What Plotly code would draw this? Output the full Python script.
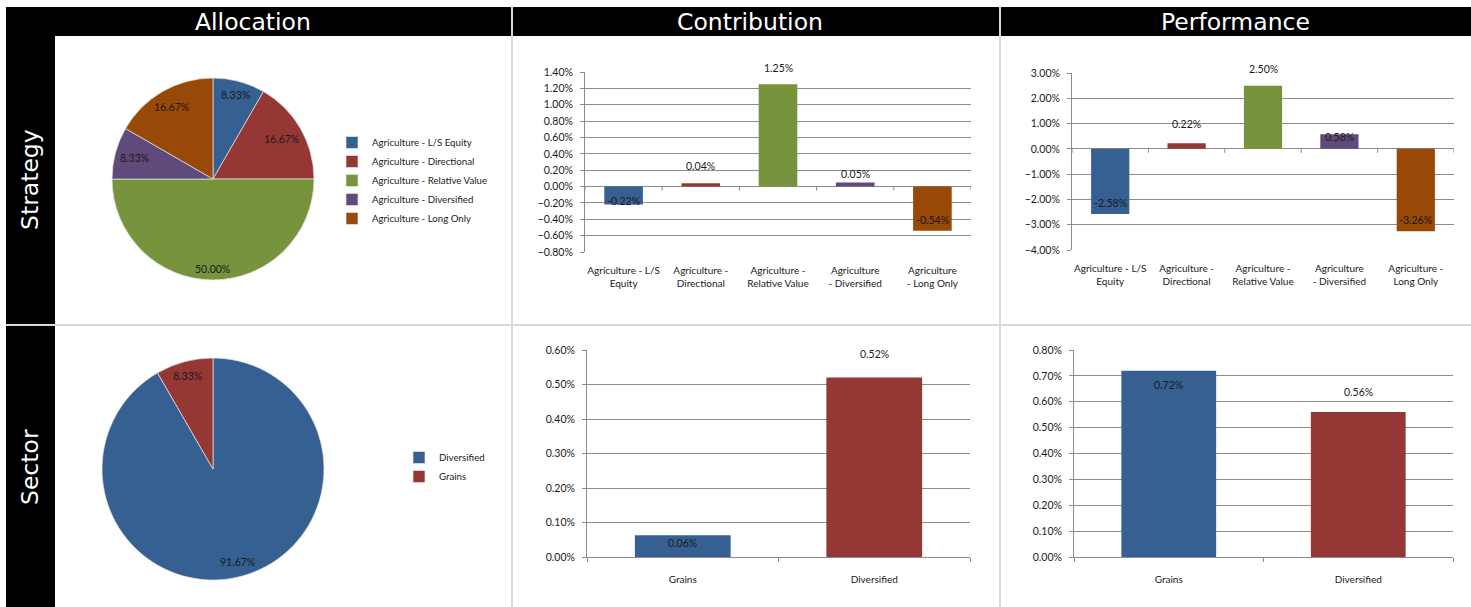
import math
import plotly.graph_objects as go

W, H = 1471, 607

# ---------------- data ----------------
strategy_names = [
    "Agriculture - L/S Equity",
    "Agriculture - Directional",
    "Agriculture - Relative Value",
    "Agriculture - Diversified",
    "Agriculture - Long Only",
]
strategy_alloc = [8.33, 16.67, 50.00, 8.33, 16.67]          # %
strategy_contrib = [-0.0022, 0.0004, 0.0125, 0.0005, -0.0054]
strategy_perf = [-0.0258, 0.0022, 0.0250, 0.0058, -0.0326]
contrib_ticktext = [
    "Agriculture - L/S<br>Equity",
    "Agriculture -<br>Directional",
    "Agriculture -<br>Relative Value",
    "Agriculture<br>- Diversified",
    "Agriculture<br>- Long Only",
]
perf_ticktext = [
    "Agriculture - L/S<br>Equity",
    "Agriculture -<br>Directional",
    "Agriculture -<br>Relative Value",
    "Agriculture<br>- Diversified",
    "Agriculture -<br>Long Only",
]

sector_pie_names = ["Diversified", "Grains"]
sector_alloc = [91.67, 8.33]                               # %
sector_bar_names = ["Grains", "Diversified"]
sector_contrib = [0.00063, 0.0052]
sector_perf = [0.0072, 0.0056]

# ---------------- styles ----------------
BLUE, RED, GREEN, PURPLE, ORANGE = "#366092", "#953735", "#77933C", "#604A7B", "#984807"
strategy_colors = [BLUE, RED, GREEN, PURPLE, ORANGE]
sector_pie_colors = [BLUE, RED]
sector_bar_colors = [BLUE, RED]
GRID = "#8C8C8C"
DIV = "#D9D9D9"
TXT = "#1a1a1a"
SMALL = "Lato"
BIG = "DejaVu Sans"

# label offsets (pixels, upward) relative to each bar end
contrib_dy = [4, 17, 16, 8, 11]
perf_dy = [11, 19, 17, -3, 11]
sec_contrib_dy = [-8, 24]
sec_perf_dy = [-14, 20]
PIE_INNER = 0.955      # label boxes are kept inside this fraction of the radius
LABEL_CHAR_W = 5.5     # approx. px per character of a pie label
LABEL_HALF_H = 6


def px(x):
    return x / W


def py(y):
    return 1 - y / H


fig = go.Figure()
annotations = []
shapes = []

# ---- pies ----
pie_specs = [
    (strategy_names, strategy_alloc, strategy_colors, (112, 314), (78, 280), "legend"),
    (sector_pie_names, sector_alloc, sector_pie_colors, (102, 324), (358, 580), "legend2"),
]
for names, vals, cols, (x0, x1), (y0, y1), leg in pie_specs:
    fig.add_trace(go.Pie(
        labels=names, values=vals, sort=False,
        direction="clockwise", rotation=0,
        marker=dict(colors=cols, line=dict(color="#E6E6E6", width=0.7)),
        textinfo="none",
        domain=dict(x=[px(x0), px(x1)], y=[py(y1), py(y0)]),
        legend=leg, hoverinfo="label+value",
    ))
    # data labels placed "inside end" of each slice (angles clockwise from 12 o'clock)
    cx, cy, r = (x0 + x1) / 2, (y0 + y1) / 2, (x1 - x0) / 2
    total = sum(vals)
    cum = 0.0
    for v in vals:
        mid = (cum + v / 2) / total * 2 * math.pi
        cum += v
        txt = f"{v:.2f}%"
        hw = len(txt) * LABEL_CHAR_W / 2
        d = PIE_INNER * r - hw * abs(math.sin(mid)) - LABEL_HALF_H * abs(math.cos(mid))
        lx = cx + d * math.sin(mid)
        ly = cy - d * math.cos(mid)
        annotations.append(dict(
            x=px(lx), y=py(ly), xref="paper", yref="paper", text=txt,
            showarrow=False, xanchor="center", yanchor="middle",
            font=dict(family=SMALL, size=10.5, color=TXT),
        ))

# ---- bars ----
bar_specs = [
    (strategy_names, strategy_contrib, strategy_colors, contrib_ticktext, "x", "y", contrib_dy),
    (strategy_names, strategy_perf, strategy_colors, perf_ticktext, "x2", "y2", perf_dy),
    (sector_bar_names, sector_contrib, sector_bar_colors, sector_bar_names, "x3", "y3", sec_contrib_dy),
    (sector_bar_names, sector_perf, sector_bar_colors, sector_bar_names, "x4", "y4", sec_perf_dy),
]

for names, vals, cols, tt, xa, ya, dys in bar_specs:
    fig.add_trace(go.Bar(
        x=names, y=vals, width=0.5, xaxis=xa, yaxis=ya,
        marker=dict(color=cols, line=dict(width=0)),
        showlegend=False, hovertemplate="%{x}: %{y:.2%}<extra></extra>",
    ))
    for n, v, dy in zip(names, vals, dys):
        annotations.append(dict(
            x=n, y=v, xref=xa, yref=ya, text=f"{v * 100:.2f}%", showarrow=False,
            yshift=dy, yanchor="middle", font=dict(family=SMALL, size=10.5, color=TXT),
        ))
    if min(vals) < 0:
        for i in range(len(names) + 1):
            shapes.append(dict(
                type="line", xref=xa, yref=ya, x0=i - 0.5, x1=i - 0.5,
                ysizemode="pixel", yanchor=0, y0=0, y1=-4,
                line=dict(color=GRID, width=1),
            ))

yfont = dict(family=SMALL, size=10.5, color=TXT)
xfont = dict(family=SMALL, size=10, color=TXT)


def yaxis(domain, rng, dtick, anchor):
    return dict(
        domain=domain, range=rng, dtick=dtick, tick0=0, tickformat=".2%",
        showgrid=True, gridcolor=GRID, gridwidth=1,
        zeroline=True, zerolinecolor=GRID, zerolinewidth=1,
        showline=True, linecolor=GRID, linewidth=1,
        ticks="outside", ticklen=4, tickcolor=GRID, tickfont=yfont,
        ticklabelstandoff=5,
        anchor=anchor, fixedrange=True, automargin=False,
    )


def xaxis(domain, names, tt, anchor, bottom_axis):
    d = dict(
        domain=domain, anchor=anchor, type="category", range=[-0.5, len(names) - 0.5],
        tickmode="array", tickvals=names, ticktext=tt, tickfont=xfont,
        showgrid=False, zeroline=False, fixedrange=True, automargin=False,
    )
    if bottom_axis:
        d.update(showline=True, linecolor=GRID, linewidth=1, ticks="outside",
                 tickson="boundaries", ticklen=4, tickcolor=GRID, ticklabelstandoff=13)
    else:
        d.update(showline=False, ticks="", ticklabelstandoff=11)
    return d


fig.update_layout(
    xaxis=xaxis([px(585), px(971)], strategy_names, contrib_ticktext, "y", False),
    yaxis=yaxis([py(252), py(72)], [-0.008, 0.014], 0.002, "x"),
    xaxis2=xaxis([px(1072), px(1454)], strategy_names, perf_ticktext, "y2", False),
    yaxis2=yaxis([py(250), py(73)], [-0.04, 0.03], 0.01, "x2"),
    xaxis3=xaxis([px(587), px(970)], sector_bar_names, sector_bar_names, "y3", True),
    yaxis3=yaxis([py(557), py(350)], [0, 0.006], 0.001, "x3"),
    xaxis4=xaxis([px(1074), px(1453)], sector_bar_names, sector_bar_names, "y4", True),
    yaxis4=yaxis([py(557), py(350)], [0, 0.008], 0.001, "x4"),
)

# ---- frame ----
frame = [
    dict(type="rect", xref="paper", yref="paper", x0=px(6), x1=1, y0=py(36), y1=py(7),
         fillcolor="black", line=dict(width=0), layer="below"),
    dict(type="rect", xref="paper", yref="paper", x0=px(6), x1=px(55), y0=0, y1=py(7),
         fillcolor="black", line=dict(width=0), layer="below"),
    dict(type="line", xref="paper", yref="paper", x0=px(512), x1=px(512), y0=0, y1=py(7),
         line=dict(color=DIV, width=2)),
    dict(type="line", xref="paper", yref="paper", x0=px(1000), x1=px(1000), y0=0, y1=py(7),
         line=dict(color=DIV, width=2)),
    dict(type="line", xref="paper", yref="paper", x0=px(6), x1=1, y0=py(325), y1=py(325),
         line=dict(color=DIV, width=2)),
]

hfont = dict(family=BIG, size=23.5, color="white")
for t, xx in [("Allocation", 253), ("Contribution", 750), ("Performance", 1235)]:
    annotations.append(dict(text=t, x=px(xx), y=py(22), xref="paper", yref="paper",
                            showarrow=False, font=hfont, xanchor="center", yanchor="middle"))
for t, yy in [("Strategy", 180), ("Sector", 467)]:
    annotations.append(dict(text=t, x=px(30), y=py(yy), xref="paper", yref="paper",
                            showarrow=False, textangle=-90, font=hfont,
                            xanchor="center", yanchor="middle"))

lfont = dict(family=SMALL, size=9.7, color=TXT)
fig.update_layout(
    width=W, height=H, autosize=False, margin=dict(l=0, r=0, t=0, b=0, pad=0, autoexpand=False),
    paper_bgcolor="white", plot_bgcolor="white",
    shapes=frame + shapes, annotations=annotations,
    legend=dict(x=px(332), y=py(128), xanchor="left", yanchor="top", font=lfont,
                bgcolor="rgba(0,0,0,0)", borderwidth=0, itemclick=False),
    legend2=dict(x=px(399), y=py(443), xanchor="left", yanchor="top", font=lfont,
                 bgcolor="rgba(0,0,0,0)", borderwidth=0, itemclick=False),
    bargap=0.5,
)

fig.write_html(
    "out.html",
    config={"displayModeBar": False, "responsive": False},
    post_script="document.body.style.margin='0';document.body.style.overflow='hidden';",
)
